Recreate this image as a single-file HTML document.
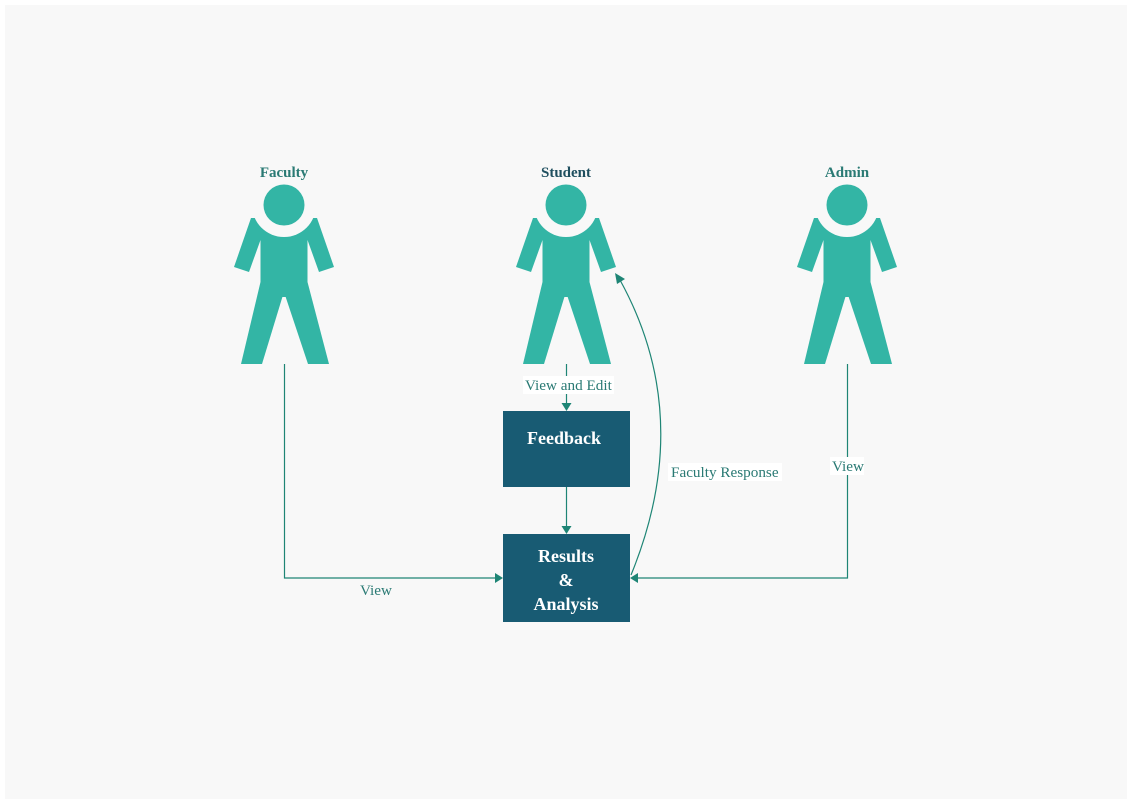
<!DOCTYPE html>
<html><head><meta charset="utf-8"><style>
html,body{margin:0;padding:0;background:#fff;}
svg{display:block;}
</style></head><body>
<svg width="1132" height="804" viewBox="0 0 1132 804" xmlns="http://www.w3.org/2000/svg" font-family="Liberation Serif, serif">
<defs>
<g id="fig">
<g fill="#33b5a5">
<rect x="-23.5" y="13" width="47" height="66"/>
<polygon points="-33,13 -23.5,13 -23.5,35 -35,67 -50,62"/>
<polygon points="33,13 23.5,13 23.5,35 35,67 50,62"/>
<polygon points="-23.5,77 -1,77 -1,90 -22,159 -43,159"/>
<polygon points="23.5,77 1,77 1,90 24,159 45,159"/>
<polygon points="-2,77 2,77 2,92 -2,92"/>
</g>
<circle cx="0" cy="0" r="32" fill="#f8f8f8"/>
<circle cx="0" cy="0" r="20.5" fill="#33b5a5"/>
</g>
</defs>
<rect x="5" y="5" width="1122" height="794" fill="#f8f8f8"/>
<use href="#fig" x="284" y="205"/>
<use href="#fig" x="566" y="205"/>
<use href="#fig" x="847" y="205"/>
<g font-weight="bold" font-size="15" text-anchor="middle">
<text x="284" y="177" fill="#2a7a74">Faculty</text>
<text x="566" y="177" fill="#1f4f5f">Student</text>
<text x="847" y="177" fill="#2a7a74">Admin</text>
</g>
<rect x="503" y="411" width="127" height="76" fill="#185b73"/>
<rect x="503" y="534" width="127" height="88" fill="#185b73"/>
<g fill="#fff" font-weight="bold" font-size="18" text-anchor="middle">
<text x="564" y="444">Feedback</text>
<text x="566" y="562">Results</text>
<text x="566" y="586">&amp;</text>
<text x="566" y="610">Analysis</text>
</g>
<g stroke="#1e8575" stroke-width="1.2" fill="none">
<polyline points="284.5,364 284.5,578 496,578"/>
<polyline points="847.5,364 847.5,578 638,578"/>
<line x1="566.5" y1="364" x2="566.5" y2="404"/>
<line x1="566.5" y1="487" x2="566.5" y2="527"/>
<path d="M631,575 C670,480 675,380 620,280"/>
</g>
<g fill="#1e8575">
<polygon points="503,578 495,573 495,583"/>
<polygon points="630,578 638,573 638,583"/>
<polygon points="566.5,411 561.5,403 571.5,403"/>
<polygon points="566.5,534 561.5,526 571.5,526"/>
<polygon points="615,273 617,284 625,279"/>
</g>
<g font-size="15.2" fill="#2a7a74">
<rect x="523" y="376" width="91" height="18" fill="#fff"/>
<text x="525" y="390">View and Edit</text>
<rect x="668" y="463" width="114" height="18" fill="#fff"/>
<text x="671" y="477">Faculty Response</text>
<rect x="830" y="457" width="34" height="18" fill="#fff"/>
<text x="832" y="471">View</text>
<text x="360" y="595">View</text>
</g>
</svg>
</body></html>
